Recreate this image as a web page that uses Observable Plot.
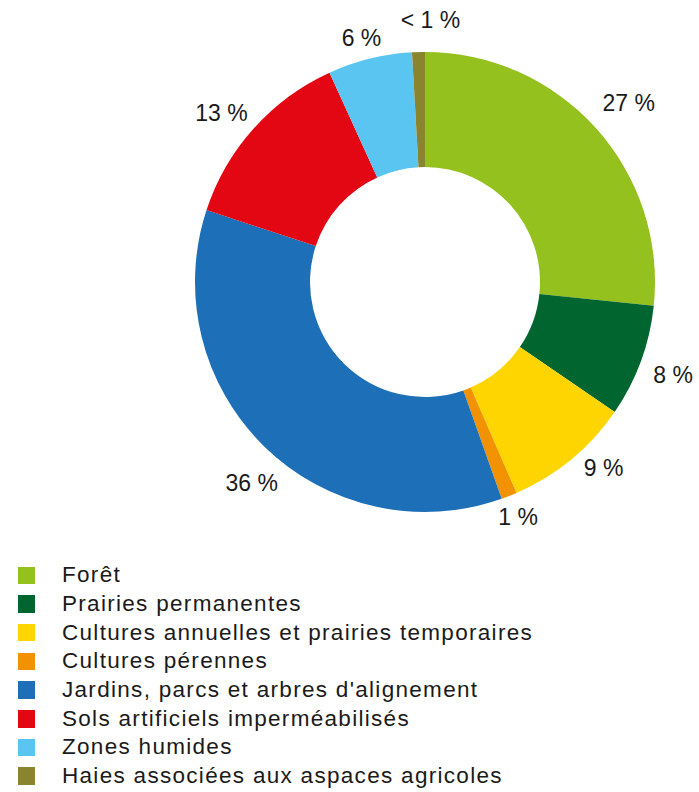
<!DOCTYPE html>
<html>
<head>
<meta charset="utf-8">
<script src="https://cdn.jsdelivr.net/npm/d3@7"></script>
<script src="https://cdn.jsdelivr.net/npm/@observablehq/plot@0.6"></script>
<style>
  html, body { margin: 0; padding: 0; background: #fff; }
  body { width: 699px; height: 792px; overflow: hidden; font-family: "Liberation Sans", Arial, sans-serif; color: #1a1a1a; }
  #legend { position: absolute; left: 0; top: 561px; }
  .row { display: flex; align-items: center; height: 28.7px; font-size: 22.5px; letter-spacing: 1.3px; white-space: nowrap; }
  .sw { width: 17.5px; height: 17.5px; margin-left: 17.5px; margin-right: 27px; }
</style>
</head>
<body>
<div id="chart"></div>
<div id="legend"></div>
<script>
const categories = [
  "Forêt",
  "Prairies permanentes",
  "Cultures annuelles et prairies temporaires",
  "Cultures pérennes",
  "Jardins, parcs et arbres d'alignement",
  "Sols artificiels imperméabilisés",
  "Zones humides",
  "Haies associées aux aspaces agricoles"
];
const values = [26.6, 7.9, 8.9, 1.1, 35.4, 13.1, 5.9, 0.9];
const labels = ["27 %", "8 %", "9 %", "1 %", "36 %", "13 %", "6 %", "< 1 %"];
const colors = ["#95c11f", "#00652e", "#ffd500", "#f39200", "#1d70b7", "#e30613", "#5bc5f2", "#8b842f"];

// label layout (radius in outer-radius units, angular nudge in degrees)
const labelRadius = [1.177, 1.15, 1.119, 1.10, 1.157, 1.150, 1.098, 1.139];
const labelNudge = [0.7, 0.4, -4.3, 0, -3.6, -2.3, -0.8, 2.7];

const data = categories.map((name, i) => ({name, value: values[i], label: labels[i], color: colors[i]}));
const arcs = d3.pie().sort(null).value(d => d.value)(data);
const labelData = arcs.map((a, i) => {
  const mid = (a.startAngle + a.endAngle) / 2 + labelNudge[i] * Math.PI / 180;
  return {label: a.data.label, x: Math.sin(mid) * labelRadius[i], y: Math.cos(mid) * labelRadius[i]};
});

const W = 699, H = 555, R = 230, CX = 425, CY = 282;
const chart = Plot.plot({
  width: W,
  height: H,
  margin: 0,
  x: {domain: [-CX / R, (W - CX) / R], range: [0, W], axis: null},
  y: {domain: [-(H - CY) / R, CY / R], range: [H, 0], axis: null},
  marks: [
    (index, {x, y}) => {
      const cx = x(0), cy = y(0), r = x(1) - x(0);
      const arc = d3.arc().innerRadius(r * 0.5).outerRadius(r);
      const g = d3.create("svg:g").attr("transform", `translate(${cx},${cy})`);
      g.selectAll("path").data(arcs).join("path")
        .attr("d", arc)
        .attr("fill", d => d.data.color);
      return g.node();
    },
    Plot.text(labelData, {x: "x", y: "y", text: "label", fontSize: 23, fill: "#1a1a1a", textAnchor: "middle", fontFamily: "Liberation Sans, Arial, sans-serif", style: "letter-spacing: 1px"})
  ]
});
document.getElementById("chart").appendChild(chart);

const legend = d3.select("#legend");
data.forEach(d => {
  const row = legend.append("div").attr("class", "row");
  row.append("div").attr("class", "sw").style("background", d.color);
  row.append("span").text(d.name);
});
</script>
</body>
</html>
